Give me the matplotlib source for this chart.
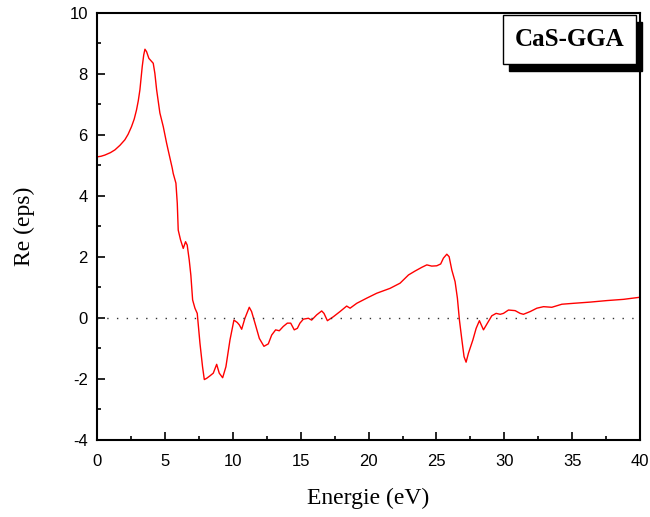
import matplotlib
matplotlib.use("Agg")
import matplotlib.pyplot as plt
from matplotlib.patches import Rectangle
from matplotlib.ticker import MultipleLocator

plt.rcParams["font.family"] = ["Liberation Sans", "DejaVu Sans"]
plt.rcParams["axes.unicode_minus"] = False

energy = [0.0, 0.3, 0.59, 1.0, 1.33, 1.7, 2.06, 2.3, 2.55, 2.75, 2.92, 3.05, 3.17, 3.34,
          3.45, 3.54, 3.66, 3.83, 4.15, 4.27,
          4.40, 4.64, 4.89, 5.13, 5.25, 5.55, 5.62, 5.82, 5.92, 5.99, 6.16, 6.36, 6.53,
          6.65, 6.80, 6.92, 7.05, 7.22, 7.39, 7.59, 7.78, 7.91, 8.08, 8.32, 8.57, 8.82,
          9.01, 9.26, 9.50, 9.80, 10.09, 10.34, 10.49, 10.66, 10.90, 11.22, 11.39, 11.64,
          11.96, 12.30, 12.62, 12.87, 13.16, 13.43, 13.72, 14.02, 14.27, 14.53, 14.76,
          14.95, 15.20, 15.57, 15.81, 16.18, 16.55, 16.72, 16.97, 17.41, 17.90, 18.39,
          18.64, 19.13, 19.87, 20.60, 21.58, 22.32, 22.94, 23.43, 23.92, 24.29, 24.65,
          25.02, 25.31, 25.51, 25.76, 25.93, 26.13, 26.37, 26.54, 26.69, 26.87, 27.03,
          27.18, 27.35, 27.68, 27.92, 28.16, 28.46, 28.75, 29.07, 29.39, 29.69, 29.93,
          30.30, 30.79, 31.16, 31.40, 31.90, 32.39, 32.88, 33.49, 34.23, 35.09, 36.32,
          37.55, 38.77, 40.0]
re_eps = [5.28, 5.30, 5.34, 5.42, 5.51, 5.66, 5.84, 6.02, 6.27, 6.52, 6.82, 7.12, 7.48, 8.24,
          8.62, 8.81, 8.73, 8.51, 8.35, 8.02,
          7.48, 6.72, 6.27, 5.74, 5.50, 4.91, 4.74, 4.42, 3.76, 2.88, 2.56, 2.28, 2.50,
          2.39, 1.90, 1.40, 0.59, 0.32, 0.15, -0.83, -1.60, -2.02, -1.98, -1.90, -1.81, -1.52,
          -1.81, -1.96, -1.60, -0.72, -0.07, -0.15, -0.23, -0.37, -0.01, 0.35, 0.21, -0.17,
          -0.67, -0.93, -0.85, -0.56, -0.39, -0.42, -0.28, -0.17, -0.17, -0.39, -0.34,
          -0.17, -0.04, -0.01, -0.07, 0.10, 0.23, 0.15, -0.09, 0.04, 0.21, 0.39,
          0.32, 0.48, 0.65, 0.81, 0.97, 1.14, 1.41, 1.54, 1.66, 1.74, 1.70,
          1.71, 1.77, 1.96, 2.09, 2.01, 1.57, 1.19, 0.65, -0.07, -0.72, -1.27,
          -1.45, -1.16, -0.72, -0.34, -0.09, -0.39, -0.17, 0.07, 0.15, 0.12, 0.15,
          0.26, 0.24, 0.15, 0.12, 0.21, 0.32, 0.37, 0.35, 0.45, 0.48, 0.52,
          0.57, 0.61, 0.68]

x_ticks = [0, 5, 10, 15, 20, 25, 30, 35, 40]
y_ticks = [-4, -2, 0, 2, 4, 6, 8, 10]
label_text = "CaS-GGA"

fig = plt.figure(figsize=(6.5, 5.17), dpi=100)
ax = fig.add_axes([0.149, 0.149, 0.836, 0.826])

ax.plot(energy, re_eps, color="red", lw=1.0)
ax.axhline(0, color="#333333", lw=1.0, linestyle=(0, (1, 6)))

ax.set_xlim(0, 40)
ax.set_ylim(-4, 10)
ax.set_xticks(x_ticks)
ax.set_yticks(y_ticks)
ax.xaxis.set_minor_locator(MultipleLocator(2.5))
ax.yaxis.set_minor_locator(MultipleLocator(1))
ax.tick_params(which="both", direction="in", top=False, right=False,
               labelsize=12, width=1.2)
ax.tick_params(which="major", length=6)
ax.tick_params(which="minor", length=3)
ax.tick_params(axis="x", which="major", pad=10)
ax.tick_params(axis="y", which="major", pad=6.5)
for s in ax.spines.values():
    s.set_linewidth(1.5)

ax.set_xlabel("Energie (eV)", family="Liberation Serif", fontsize=17, labelpad=14)
ax.set_ylabel("Re (eps)", family="Liberation Serif", fontsize=17, labelpad=25)

# label box with shadow
bx0, bx1, by0, by1 = 0.748, 0.993, 0.881, 0.995
dx, dy = 0.010, 0.016
ax.add_patch(Rectangle((bx0 + dx, by0 - dy), bx1 - bx0, by1 - by0,
                       transform=ax.transAxes, facecolor="black", edgecolor="black",
                       clip_on=False, zorder=4))
ax.add_patch(Rectangle((bx0, by0), bx1 - bx0, by1 - by0,
                       transform=ax.transAxes, facecolor="white", edgecolor="black",
                       lw=1.0, clip_on=False, zorder=5))
ax.text((bx0 + bx1) / 2, (by0 + by1) / 2, label_text, transform=ax.transAxes,
        ha="center", va="center", family="Liberation Serif", fontweight="bold",
        fontsize=18, zorder=6)

fig.savefig("out.png", dpi=100)
